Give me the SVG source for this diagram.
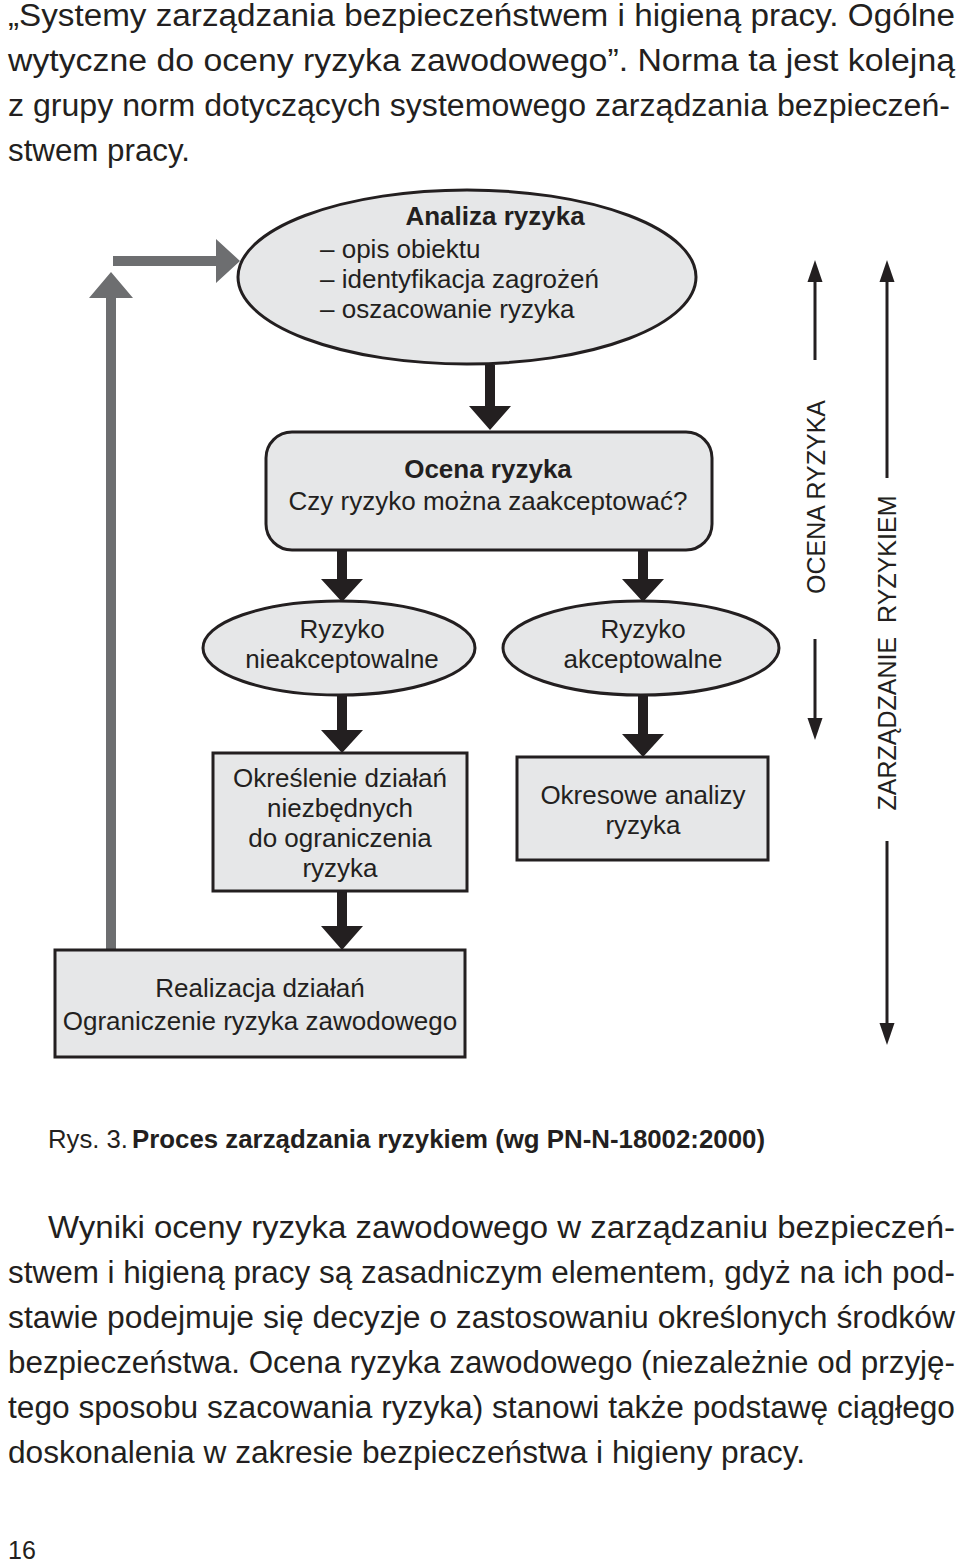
<svg xmlns="http://www.w3.org/2000/svg" width="960" height="1562" viewBox="0 0 960 1562">
<style>
.bg{fill:#ffffff}
.node{fill:#e6e7e8;stroke:#231f20;stroke-width:3}
.t{font-family:"Liberation Sans",Arial,sans-serif;font-size:26px;fill:#231f20}
.v{font-size:25px}
.c{text-anchor:middle}
.b{font-weight:bold}
.body{font-family:"Liberation Sans",Arial,sans-serif;font-size:31px;fill:#231f20}
.cap{font-family:"Liberation Sans",Arial,sans-serif;font-size:25px;fill:#231f20}
.blk{fill:#231f20}
.gry{fill:#6d6e70}
.thin{stroke:#231f20;stroke-width:3;fill:none}
</style>
<rect class="bg" x="0" y="0" width="960" height="1562"/>

<g id="text-top">
<text class="body" x="8" y="26" textLength="947" lengthAdjust="spacingAndGlyphs">„Systemy zarządzania bezpieczeństwem i higieną pracy. Ogólne</text>
<text class="body" x="8" y="71" textLength="947" lengthAdjust="spacingAndGlyphs">wytyczne do oceny ryzyka zawodowego”. Norma ta jest kolejną</text>
<text class="body" x="8" y="116" textLength="942" lengthAdjust="spacingAndGlyphs">z grupy norm dotyczących systemowego zarządzania bezpieczeń-</text>
<text class="body" x="8" y="161" textLength="182" lengthAdjust="spacingAndGlyphs">stwem pracy.</text>
</g>

<g id="connectors">
<polygon class="blk" points="485,365 495,365 495,406 511,406 490,430 469,406 485,406"/>
<polygon class="blk" points="337,550 347,550 347,579 363,579 342,602 321,579 337,579"/>
<polygon class="blk" points="638,550 648,550 648,579 664,579 643,602 622,579 638,579"/>
<polygon class="blk" points="337,695 347,695 347,730 363,730 342,753 321,730 337,730"/>
<polygon class="blk" points="638,695 648,695 648,734 664,734 643,757 622,734 638,734"/>
<polygon class="blk" points="337,891 347,891 347,926 363,926 342,950 321,926 337,926"/>
<polygon class="gry" points="106,950 116,950 116,298 133,298 111,272 89,298 106,298"/>
<polygon class="gry" points="113,256 216,256 216,239 240,261 216,283 216,266 113,266"/>
<line class="thin" x1="815" y1="360" x2="815" y2="280"/>
<polygon class="blk" points="807.5,282 822.5,282 815,260"/>
<line class="thin" x1="815" y1="639" x2="815" y2="720"/>
<polygon class="blk" points="807.5,718 822.5,718 815,740"/>
<line class="thin" x1="887" y1="478" x2="887" y2="280"/>
<polygon class="blk" points="879.5,282 894.5,282 887,260"/>
<line class="thin" x1="887" y1="841" x2="887" y2="1025"/>
<polygon class="blk" points="879.5,1023 894.5,1023 887,1045"/>
</g>

<g id="analiza">
<ellipse class="node" cx="467" cy="277" rx="229" ry="87"/>
<text class="t c b" x="495" y="225">Analiza ryzyka</text>
<text class="t" x="320" y="258">– opis obiektu</text>
<text class="t" x="320" y="288">– identyfikacja zagrożeń</text>
<text class="t" x="320" y="318">– oszacowanie ryzyka</text>
</g>

<g id="ocena">
<rect class="node" x="266" y="432" width="446" height="118" rx="26" ry="26"/>
<text class="t c b" x="488" y="478">Ocena ryzyka</text>
<text class="t c" x="488" y="510">Czy ryzyko można zaakceptować?</text>
</g>

<g id="nieakceptowalne">
<ellipse class="node" cx="339" cy="648" rx="136" ry="47"/>
<text class="t c" x="342" y="638">Ryzyko</text>
<text class="t c" x="342" y="668">nieakceptowalne</text>
</g>

<g id="akceptowalne">
<ellipse class="node" cx="641" cy="648" rx="138" ry="47"/>
<text class="t c" x="643" y="638">Ryzyko</text>
<text class="t c" x="643" y="668">akceptowalne</text>
</g>

<g id="okreslenie">
<rect class="node" x="213" y="753" width="254" height="138"/>
<text class="t c" x="340" y="787">Określenie działań</text>
<text class="t c" x="340" y="817">niezbędnych</text>
<text class="t c" x="340" y="847">do ograniczenia</text>
<text class="t c" x="340" y="877">ryzyka</text>
</g>

<g id="okresowe">
<rect class="node" x="517" y="757" width="251" height="103"/>
<text class="t c" x="643" y="804">Okresowe analizy</text>
<text class="t c" x="643" y="834">ryzyka</text>
</g>

<g id="realizacja">
<rect class="node" x="55" y="950" width="410" height="107"/>
<text class="t c" x="260" y="997">Realizacja działań</text>
<text class="t c" x="260" y="1030">Ograniczenie ryzyka zawodowego</text>
</g>

<g id="label-ocena">
<text class="t v c" transform="translate(825,497) rotate(-90)">OCENA RYZYKA</text>
</g>
<g id="label-zarzadzanie">
<text class="t v c" word-spacing="7" transform="translate(896,653) rotate(-90)">ZARZĄDZANIE RYZYKIEM</text>
</g>

<g id="caption">
<text class="cap" x="48" y="1148" textLength="80" lengthAdjust="spacingAndGlyphs">Rys. 3.</text>
<text class="cap b" x="132" y="1148" textLength="633" lengthAdjust="spacingAndGlyphs">Proces zarządzania ryzykiem (wg PN-N-18002:2000)</text>
</g>

<g id="text-bottom">
<text class="body" x="48" y="1238" textLength="907" lengthAdjust="spacingAndGlyphs">Wyniki oceny ryzyka zawodowego w zarządzaniu bezpieczeń-</text>
<text class="body" x="8" y="1283" textLength="947" lengthAdjust="spacingAndGlyphs">stwem i higieną pracy są zasadniczym elementem, gdyż na ich pod-</text>
<text class="body" x="8" y="1328" textLength="947" lengthAdjust="spacingAndGlyphs">stawie podejmuje się decyzje o zastosowaniu określonych środków</text>
<text class="body" x="8" y="1373" textLength="947" lengthAdjust="spacingAndGlyphs">bezpieczeństwa. Ocena ryzyka zawodowego (niezależnie od przyję-</text>
<text class="body" x="8" y="1418" textLength="947" lengthAdjust="spacingAndGlyphs">tego sposobu szacowania ryzyka) stanowi także podstawę ciągłego</text>
<text class="body" x="8" y="1463" textLength="797" lengthAdjust="spacingAndGlyphs">doskonalenia w zakresie bezpieczeństwa i higieny pracy.</text>
</g>

<g id="page-number">
<text class="cap" x="8" y="1559" font-size="26">16</text>
</g>
</svg>
